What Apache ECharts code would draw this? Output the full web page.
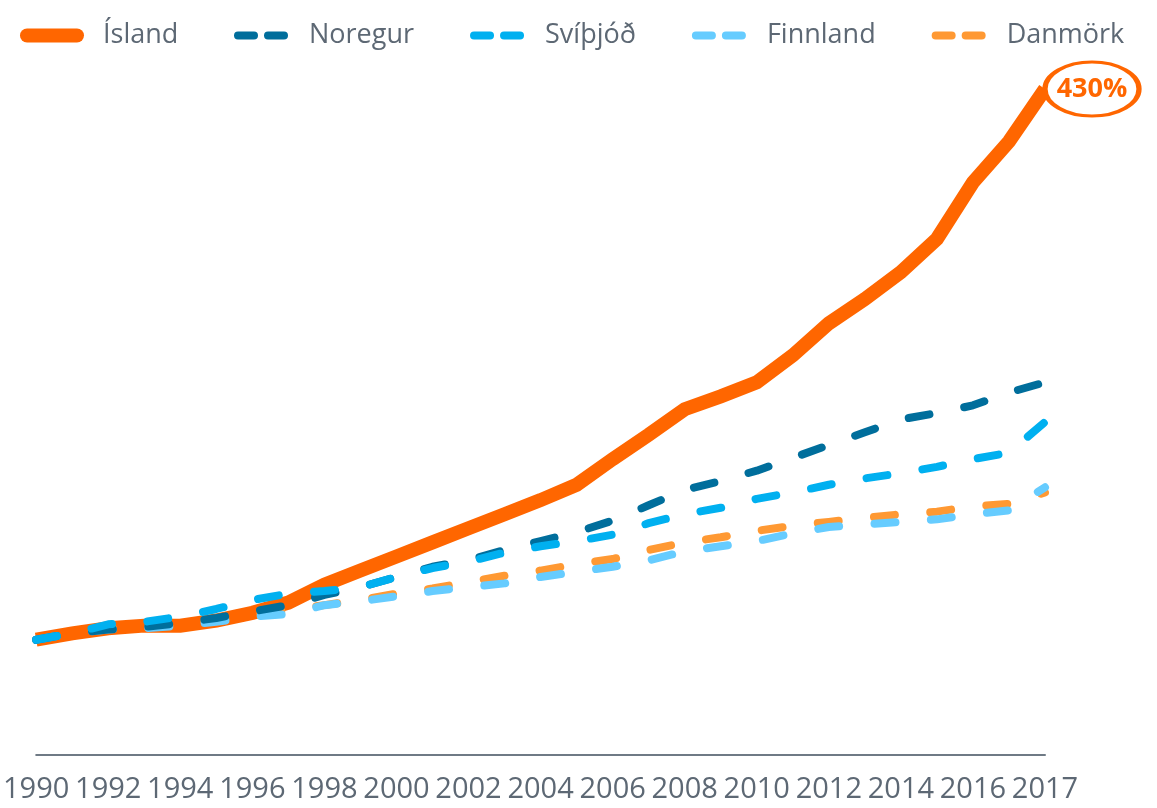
<!DOCTYPE html>
<html>
<head>
    <meta charset="utf-8">
    <title>Verðþróun</title>
    <script src="https://cdn.jsdelivr.net/npm/echarts@6/dist/echarts.min.js"></script>
    <style>
        html, body { margin: 0; padding: 0; background: #fff; }
    </style>
</head>
<body>
    <div id="main" style="width: 1157px;height:808px;"></div>
    <script type="text/javascript">
        // x labels: every 2nd year shown, last point labelled 2017
        var xLabels = ['1990', '', '1992', '', '1994', '', '1996', '', '1998', '', '2000', '', '2002', '', '2004', '',
                       '2006', '', '2008', '', '2010', '', '2012', '', '2014', '', '2016', '', '2017'];

        // % change since 1990
        var island   = [0, 5, 9, 11, 11, 15, 21, 29, 43, 54, 65, 76, 87, 98, 109, 121, 141, 160, 180, 190, 201, 222, 247, 266, 287, 313, 357, 389, 430];
        var noregur  = [0, 5, 8, 10, 13, 17, 22, 27, 35, 41, 49, 57, 62, 70, 77, 84, 93, 105, 117, 124, 132, 142, 152, 162, 172, 177, 183, 193, 201];
        var svithjod = [0, 5, 12, 14, 18, 24, 31, 36, 38, 41, 49, 56, 61, 68, 73, 77, 82, 91, 98, 103, 110, 115, 121, 126, 130, 135, 141, 146, 170];
        var finnland = [0, 5, 8, 9, 11, 14, 18, 20, 27, 30, 34, 38, 41, 44, 49, 53, 57, 62, 69, 73, 77, 83, 88, 90, 92, 94, 98, 101, 119];
        var danmork  = [0, 5, 9, 10, 12, 16, 20, 23, 27, 31, 36, 40, 45, 50, 54, 59, 63, 70, 76, 80, 85, 89, 92, 95, 98, 100, 104, 106, 115];

        var myChart = echarts.init(document.getElementById('main'));

        var dashed = [21, 35.5];

        function dashLine(name, data, color) {
            return {
                name: name,
                type: 'line',
                data: data,
                symbol: 'none',
                showSymbol: false,
                lineStyle: {
                    color: color,
                    width: 8,
                    type: dashed,
                    cap: 'round'
                },
                itemStyle: { color: color }
            };
        }

        var legendText = { fontSize: 27, color: '#5d6874', fontFamily: 'Open Sans' };

        var option = {
            backgroundColor: '#fff',
            textStyle: { fontFamily: 'Open Sans' },
            legend: [
                {
                    data: ['Ísland'],
                    left: 15,
                    top: 17,
                    itemWidth: 50,
                    itemHeight: 14,
                    itemStyle: { opacity: 0 },
                    lineStyle: { width: 14, cap: 'round', type: 'solid' },
                    textStyle: Object.assign({ padding: [0, 0, 0, 21] }, legendText)
                },
                {
                    data: ['Noregur', 'Svíþjóð', 'Finnland', 'Danmörk'],
                    left: 229,
                    top: 17,
                    itemWidth: 54,
                    itemHeight: 14,
                    itemGap: 56,
                    itemStyle: { opacity: 0 },
                    lineStyle: { width: 8, cap: 'round', type: [16, 14] },
                    textStyle: Object.assign({ padding: [0, 0, 0, 12] }, legendText)
                }
            ],
            grid: {
                left: 35,
                right: 112,
                top: 89,
                bottom: 53
            },
            xAxis: {
                type: 'category',
                data: xLabels,
                boundaryGap: false,
                axisLine: { onZero: false, lineStyle: { color: '#6f7a85', width: 2 } },
                axisTick: { show: false },
                axisLabel: {
                    interval: 0,
                    margin: 20,
                    fontSize: 29,
                    color: '#5d6874',
                    fontFamily: 'Open Sans'
                },
                splitLine: { show: false }
            },
            yAxis: {
                type: 'value',
                min: -90,
                max: 430,
                show: false,
                splitLine: { show: false }
            },
            series: [
                {
                    name: 'Ísland',
                    type: 'line',
                    data: island,
                    symbol: 'none',
                    showSymbol: false,
                    lineStyle: { color: '#ff6600', width: 14, join: 'miter' },
                    itemStyle: { color: '#ff6600' },
                    markPoint: {
                        symbol: 'circle',
                        symbolSize: [94, 54],
                        symbolOffset: [47, 0],
                        itemStyle: { color: '#fff', borderColor: '#ff6600', borderWidth: 4 },
                        label: {
                            show: true,
                            formatter: '430%',
                            color: '#ff6600',
                            fontSize: 27,
                            fontWeight: 'bold',
                            fontFamily: 'Open Sans'
                        },
                        data: [{ coord: [28, 430] }]
                    }
                },
                dashLine('Danmörk', danmork, '#ff9933'),
                dashLine('Finnland', finnland, '#66ccff'),
                dashLine('Noregur', noregur, '#006e9c'),
                dashLine('Svíþjóð', svithjod, '#00b0f0')
            ]
        };

        myChart.setOption(option);
    </script>
</body>
</html>
